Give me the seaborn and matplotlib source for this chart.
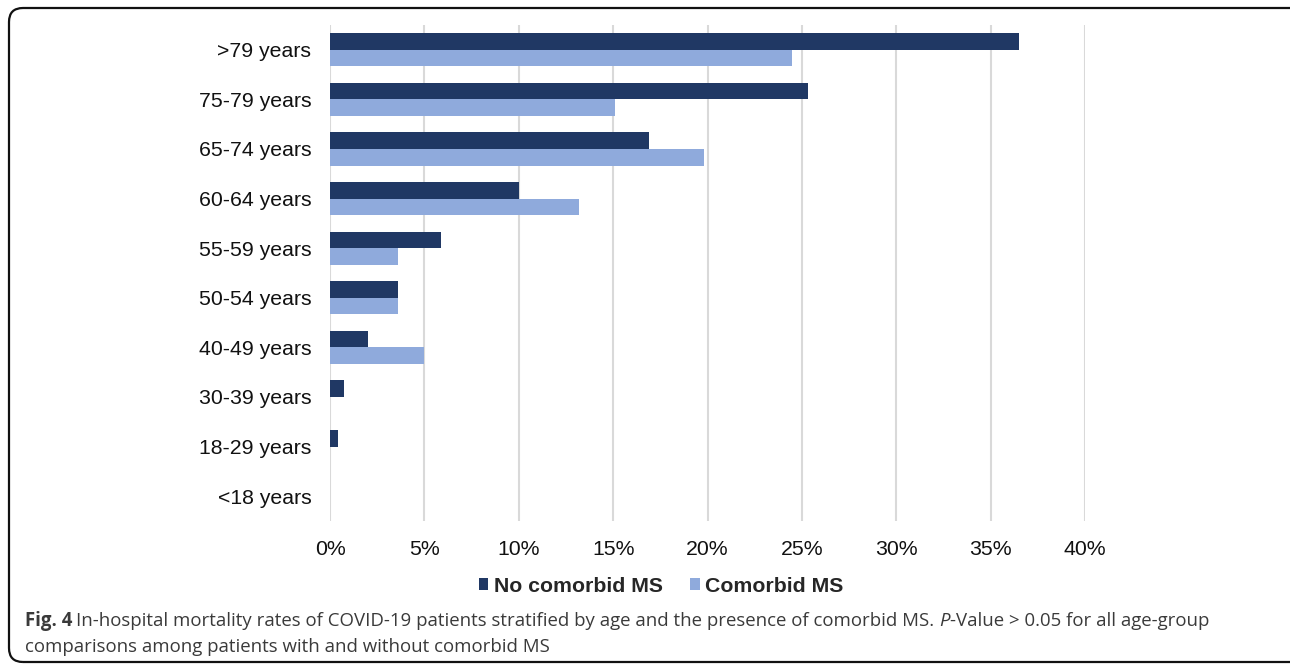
import matplotlib
matplotlib.use("Agg")
import matplotlib.pyplot as plt
import seaborn as sns
import pandas as pd
from matplotlib.ticker import PercentFormatter, MultipleLocator
from matplotlib.patches import FancyBboxPatch, Patch
from matplotlib.transforms import IdentityTransform

categories = [">79 years", "75-79 years", "65-74 years", "60-64 years", "55-59 years",
              "50-54 years", "40-49 years", "30-39 years", "18-29 years", "<18 years"]
no_comorbid = [36.5, 25.3, 16.9, 10.0, 5.9, 3.6, 2.0, 0.75, 0.4, 0.0]
comorbid = [24.5, 15.1, 19.8, 13.2, 3.6, 3.6, 5.0, 0.0, 0.0, 0.0]
series_names = ["No comorbid MS", "Comorbid MS"]
colors = ["#203864", "#8FAADC"]

df = pd.DataFrame({
    "age": categories * 2,
    "rate": no_comorbid + comorbid,
    "group": [series_names[0]] * len(categories) + [series_names[1]] * len(categories),
})

sns.set_style("white")
plt.rcParams["font.family"] = ["Liberation Sans", "DejaVu Sans"]

W, H = 1290, 664
fig = plt.figure(figsize=(W / 100, H / 100), dpi=100)
ax = fig.add_axes([330 / W, 1 - 521 / H, (1085 - 330) / W, (521 - 25) / H])

sns.barplot(data=df, y="age", x="rate", hue="group", order=categories,
            hue_order=series_names, palette=colors, orient="h", width=0.67,
            saturation=1, legend=False, ax=ax, linewidth=0)

ax.set_xlim(0, 40)
ax.xaxis.set_major_locator(MultipleLocator(5))
ax.xaxis.set_major_formatter(PercentFormatter(decimals=0))
ax.grid(axis="x", color="#d9d9d9", linewidth=1.5)
ax.grid(axis="y", visible=False)
ax.set_axisbelow(True)
for s in ax.spines.values():
    s.set_visible(False)
ax.set_xlabel("")
ax.set_ylabel("")
ax.tick_params(axis="both", length=0, labelsize=15.3, colors="#111111")
ax.tick_params(axis="x", pad=13.5)
ax.tick_params(axis="y", pad=13.5)

handles = [Patch(facecolor=c, edgecolor="none") for c in colors]
fig.legend(handles, series_names, loc="center", bbox_to_anchor=(661 / W, 1 - 586 / H),
           ncol=2, frameon=False, handlelength=0.45, handleheight=0.45, handletextpad=0.25,
           columnspacing=1.3, prop={"weight": "bold", "size": 15.3})

# caption
cap_color = "#3a3a3a"
cap_font = ["Open Sans", "DejaVu Sans"]
cap_size = 13.4
fig.canvas.draw()
renderer = fig.canvas.get_renderer()

def put(x, y, s, **kw):
    t = fig.text(x / W, 1 - y / H, s, va="baseline", ha="left", color=cap_color,
                 family=cap_font, size=cap_size, **kw)
    bb = t.get_window_extent(renderer=renderer)
    return bb.x1

x = put(25, 626, "Fig. 4", weight="bold")
x = put(x + 4, 626, "In-hospital mortality rates of COVID-19 patients stratified by age and the presence of comorbid MS. ")
x = put(x, 626, "P", style="italic")
put(x, 626, "-Value > 0.05 for all age-group")
put(25, 652, "comparisons among patients with and without comorbid MS")

frame = FancyBboxPatch((9, H - 662), 1310, 662 - 8, boxstyle="round,pad=0,rounding_size=14",
                       transform=IdentityTransform(), facecolor="none", edgecolor="#111111",
                       linewidth=1.6)
fig.patches.append(frame)

fig.savefig("out.png", dpi=100)
